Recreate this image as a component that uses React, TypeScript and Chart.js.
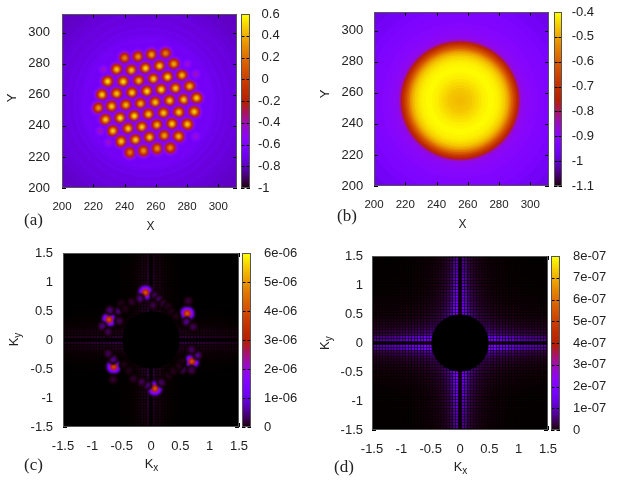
import React, { useEffect, useRef } from "react";
import { Chart, registerables } from "chart.js";

Chart.register(...registerables);

// ---------- DATA ----------
const xyTicks = [200, 220, 240, 260, 280, 300];
const kTicks = [-1.5, -1, -0.5, 0, 0.5, 1, 1.5];
const kTickLabels = ["-1.5", "-1", "-0.5", "0", "0.5", "1", "1.5"];

const cbTicksA = [-1, -0.8, -0.6, -0.4, -0.2, 0, 0.2, 0.4, 0.6];
const cbLabelsA = ["-1", "-0.8", "-0.6", "-0.4", "-0.2", " 0", " 0.2", " 0.4", " 0.6"];
const cbTicksB = [-1.1, -1, -0.9, -0.8, -0.7, -0.6, -0.5, -0.4];
const cbLabelsB = ["-1.1", "-1", "-0.9", "-0.8", "-0.7", "-0.6", "-0.5", "-0.4"];
const cbTicksC = [0, 1e-6, 2e-6, 3e-6, 4e-6, 5e-6, 6e-6];
const cbLabelsC = ["0", "1e-06", "2e-06", "3e-06", "4e-06", "5e-06", "6e-06"];
const cbTicksD = [0, 1e-7, 2e-7, 3e-7, 4e-7, 5e-7, 6e-7, 7e-7, 8e-7];
const cbLabelsD = ["0", "1e-07", "2e-07", "3e-07", "4e-07", "5e-07", "6e-07", "7e-07", "8e-07"];

// (a) background rings and density peaks
const ringRadiusA = [90, 80, 75, 70, 66, 62, 59, 56, 53, 50, 48, 46, 44, 42];
const ringValueA = [-0.79, -0.78, -0.775, -0.765, -0.75, -0.74, -0.725, -0.735, -0.715, -0.72, -0.695, -0.705, -0.685, -0.67];
const spotXA = [
  240.1, 248.8, 257.3, 266.3,
  235, 244.5, 253.5, 262.5, 271.6,
  229.2, 239.2, 249.2, 258.6, 267.6, 276.8,
  225.6, 235, 244.8, 254.4, 263.5, 272.7, 281.7,
  223.4, 231.8, 240.9, 250.3, 259.7, 268.9, 278, 286.1,
  227.9, 237.3, 246.3, 255.4, 265, 274.8, 284.6,
  232.6, 242.4, 251.2, 260.8, 270.4, 280.2,
  237.9, 247.1, 256.1, 265.5, 274.6,
  243.5, 252.2, 261, 269.3,
  280.2, 226.6, 285.5, 224.5, 229.8, 285.5,
];
const spotYA = [
  283.6, 284.5, 285.8, 286.6,
  276.3, 275.7, 277, 278.5, 279.8,
  268.6, 268.4, 269, 270.1, 271.4, 272.5,
  260, 260.7, 261.3, 262.2, 263.3, 264.1, 265.4,
  251.5, 252.5, 253.4, 254.2, 255.1, 256.2, 256.8, 257.9,
  244, 245, 246.3, 247.4, 248.2, 248.7, 249.1,
  236.7, 238.2, 239.2, 240.5, 241.2, 241,
  230, 230.9, 232.6, 233.7, 233.2,
  222.9, 224, 225.5, 225.9,
  279.8, 276.3, 273.3, 236.7, 229.4, 233.2,
];
const spotPeakA = [
  0.3, 0.35, 0.4, 0.3,
  0.5, 0.5, 0.55, 0.5, 0.4,
  0.55, 0.55, 0.45, 0.5, 0.55, 0.45,
  0.5, 0.5, 0.5, 0.55, 0.55, 0.5, 0.45,
  0.35, 0.5, 0.45, 0.45, 0.5, 0.5, 0.5, 0.5,
  0.5, 0.55, 0.55, 0.5, 0.5, 0.5, 0.5,
  0.5, 0.5, 0.5, 0.45, 0.5, 0.5,
  0.5, 0.5, 0.5, 0.4, 0.45,
  0.25, 0.35, 0.35, 0.3,
  -0.42, -0.4, -0.38, -0.38, -0.4, -0.42,
];

// (b) radial profile of the density
const ringRadiusB = [90, 80, 72, 65, 60, 55, 50, 46, 43, 41, 40, 39, 38.3, 37.6, 37, 36, 35, 34, 33, 32, 31, 30, 29, 28, 27, 26, 25, 24, 22, 20, 18, 16, 14, 12, 10, 8, 6, 4, 2];
const ringValueB = [-0.98, -0.97, -0.955, -0.94, -0.93, -0.92, -0.91, -0.9, -0.89, -0.885, -0.87, -0.85, -0.8, -0.76, -0.72, -0.68, -0.64, -0.6, -0.56, -0.52, -0.49, -0.47, -0.45, -0.44, -0.43, -0.42, -0.415, -0.41, -0.405, -0.405, -0.41, -0.415, -0.425, -0.435, -0.445, -0.455, -0.46, -0.465, -0.47];

// (c) Bragg peaks and their side lobes
const lobeXC = [
  -0.094, 0.617, 0.697, 0.065, -0.635, -0.714,
  -0.19, 0.066, 0.14, -0.333, 0.037, 0.208,
  0.635, 0.606, 0.72,
  0.794, 0.691, 0.538, 0.691,
  -0.065, 0.179, -0.162, -0.304,
  -0.646, -0.731, -0.646,
  -0.56, -0.703, -0.828, -0.731, -0.543,
  0.293, 0.35, 0.42, -0.503, -0.44, 0.52, 0.47, 0.3, 0.38, -0.46, -0.38,
];
const lobeYC = [
  0.817, 0.456, -0.37, -0.835, -0.46, 0.353,
  0.713, 0.771, 0.696, 0.656, 0.599, 0.627,
  0.673, 0.312, 0.226,
  -0.262, -0.164, -0.508, -0.52,
  -0.778, -0.732, -0.721, -0.664,
  -0.331, -0.233, -0.68,
  0.501, 0.513, 0.237, 0.14, 0.329,
  0.57, 0.484, 0.41, 0.627, 0.54, -0.38, -0.46, -0.61, -0.54, -0.43, -0.53,
];
const lobeValueC = [
  4.2e-6, 4.2e-6, 4.1e-6, 4.2e-6, 4e-6, 4e-6,
  0.55e-6, 0.4e-6, 0.5e-6, 0.2e-6, 0.3e-6, 0.25e-6,
  0.25e-6, 0.6e-6, 0.35e-6,
  0.6e-6, 0.4e-6, 0.5e-6, 0.35e-6,
  0.5e-6, 0.4e-6, 0.35e-6, 0.2e-6,
  0.6e-6, 0.35e-6, 0.2e-6,
  0.5e-6, 0.5e-6, 0.55e-6, 0.35e-6, 0.35e-6,
  0.15e-6, 0.13e-6, 0.1e-6, 0.13e-6, 0.1e-6, 0.12e-6, 0.13e-6, 0.13e-6, 0.12e-6, 0.1e-6, 0.1e-6,
];

// Streak tables on the 0.05 k grid; index = |k| / 0.05
const streakAlongC = [3, 3, 3, 3, 3, 3, 3, 3, 3, 3, 3, 2.6, 2.9, 2.4, 2.7, 2.2, 2.5, 2, 2.3, 1.9, 2.1, 1.7, 1.9, 1.6, 1.7, 1.5, 1.5, 1.3, 1.3, 1.2, 1.2];
const streakPlusC = [0, 0.7, 0.3, 0.35, 0.18, 0.1, 0.06, 0.04, 0.02, 0.01, 0.01, 0, 0, 0, 0, 0, 0, 0, 0, 0, 0, 0, 0, 0, 0, 0, 0, 0, 0, 0, 0];
const streakMinusC = [0, 0.9, 0.35, 0.4, 0.2, 0.12, 0.07, 0.04, 0.02, 0.01, 0.01, 0, 0, 0, 0, 0, 0, 0, 0, 0, 0, 0, 0, 0, 0, 0, 0, 0, 0, 0, 0];
const streakAlongD = [2.3, 2.3, 2.3, 2.3, 2.3, 2.3, 2.3, 2.3, 2.3, 2.4, 2.6, 2, 2.3, 1.8, 2.1, 1.7, 1.9, 1.6, 1.7, 1.4, 1.5, 1.3, 1.4, 1.2, 1.3, 1.1, 1.2, 1, 1.1, 0.9, 0.9];
const streakPlusD = [0.01, 0.7, 0.6, 0.3, 0.24, 0.17, 0.13, 0.09, 0.07, 0.05, 0.04, 0.03, 0.025, 0.02, 0.016, 0.012, 0.008, 0.006, 0.005, 0.004, 0.004, 0.003, 0.003, 0.002, 0.002, 0.002, 0.002, 0.002, 0.002, 0.002, 0.002];
const streakMinusD = [0.01, 0.85, 0.7, 0.34, 0.26, 0.17, 0.13, 0.09, 0.07, 0.05, 0.04, 0.03, 0.025, 0.02, 0.016, 0.012, 0.008, 0.006, 0.005, 0.004, 0.004, 0.003, 0.003, 0.002, 0.002, 0.002, 0.002, 0.002, 0.002, 0.002, 0.002];
const maskRadiusK = 0.49;

// ---------- PALETTE / HELPERS ----------
function palette(t: number): [number, number, number] {
  const g = Math.min(1, Math.max(0, t));
  return [
    Math.round(255 * Math.sqrt(g)),
    Math.round(255 * g * g * g),
    Math.round(255 * Math.max(0, Math.sin(2 * Math.PI * g))),
  ];
}
function colorOf(v: number, min: number, max: number) {
  const [r, g, b] = palette((v - min) / (max - min));
  return `rgb(${r},${g},${b})`;
}
const spriteCache = new Map<string, HTMLCanvasElement>();
function sprite(peak: number, base: number, sigma: number, min: number, max: number) {
  const key = [peak, base, sigma, min, max].join("|");
  const hit = spriteCache.get(key);
  if (hit) return hit;
  const half = Math.ceil(sigma * 3.4);
  const size = half * 2;
  const c = document.createElement("canvas");
  c.width = size;
  c.height = size;
  const ctx = c.getContext("2d")!;
  const img = ctx.createImageData(size, size);
  for (let y = 0; y < size; y++) {
    for (let x = 0; x < size; x++) {
      const dx = x + 0.5 - half;
      const dy = y + 0.5 - half;
      const t = Math.exp(-(dx * dx + dy * dy) / (2 * sigma * sigma));
      const [r, g, b] = palette((base + (peak - base) * t - min) / (max - min));
      const o = (y * size + x) * 4;
      img.data[o] = r;
      img.data[o + 1] = g;
      img.data[o + 2] = b;
      img.data[o + 3] = 255 * Math.min(1, t * 7);
    }
  }
  ctx.putImageData(img, 0, 0);
  spriteCache.set(key, c);
  return c;
}
function streakCells(along: number[], plus: number[], minus: number[], unit: number) {
  const at = (n: number) => (n >= 0 ? plus[n] : minus[-n]);
  const cells: { x: number; y: number; v: number }[] = [];
  for (let i = -30; i <= 30; i++) {
    for (let j = -30; j <= 30; j++) {
      const v = (at(j) * along[Math.abs(i)] + at(i) * along[Math.abs(j)]) * unit;
      cells.push({ x: i * 0.05, y: j * 0.05, v });
    }
  }
  return cells;
}

const unitRadius = (ctx: any) => {
  const s = ctx.chart.scales.x;
  return Math.abs(s.getPixelForValue(1) - s.getPixelForValue(0)) * ctx.raw.r;
};
function ringDataset(radius: number[], value: number[], min: number, max: number) {
  return {
    data: radius.map((r, i) => ({ x: 255, y: 255, r, v: value[i] })),
    pointRadius: unitRadius,
    pointBorderWidth: 0,
    pointBackgroundColor: (c: any) => colorOf(c.raw.v, min, max),
  };
}
function cellDataset(cells: { x: number; y: number; v: number }[], min: number, max: number) {
  return {
    data: cells,
    pointStyle: "rect",
    pointRadius: 1.7,
    pointBorderWidth: 0,
    pointBackgroundColor: (c: any) => colorOf(c.raw.v, min, max),
  };
}
function maskDataset() {
  return {
    data: [{ x: 0, y: 0, r: maskRadiusK }],
    pointRadius: unitRadius,
    pointBorderWidth: 0,
    pointBackgroundColor: "#000",
  };
}

// ---------- PANEL DEFINITIONS ----------
const TICK_COLOR = "#222";
const YW = 62;
const XH = 50;
const PT = 10;
const PR = 16;

const panels = [
  {
    id: "a", L: 62, T: 14, R: 237, B: 188, barL: 241, barR: 250,
    xMin: 200, xMax: 312, ticks: xyTicks, labels: xyTicks.map(String),
    xFont: 11.5, yPad: 12, xPad: 12, cbPad: 8,
    cMin: -1, cMax: 0.6, cbTicks: cbTicksA, cbLabels: cbLabelsA,
    xTitle: "X", yTitle: "Y", titleX: 0, titleY: 38.7, titleYX: 12.7, titleYY: 98,
    tag: "(a)", tagX: 24, tagY: 220.7,
    datasets: () => [
      {
        data: spotXA.map((x, i) => ({ x, y: spotYA[i], p: spotPeakA[i] })),
        pointBorderWidth: 0,
        pointStyle: (c: any) => sprite(c.raw.p, -0.68, c.raw.p < 0 ? 2.6 : 3.7, -1, 0.6),
      },
      ringDataset(ringRadiusA, ringValueA, -1, 0.6),
    ],
  },
  {
    id: "b", L: 374, T: 12, R: 549, B: 186, barL: 554, barR: 562,
    xMin: 200, xMax: 312, ticks: xyTicks, labels: xyTicks.map(String),
    xFont: 11.5, yPad: 10.7, xPad: 12, cbPad: 9.7,
    cMin: -1.1, cMax: -0.4, cbTicks: cbTicksB, cbLabels: cbLabelsB,
    xTitle: "X", yTitle: "Y", titleX: 0, titleY: 39, titleYX: 325.7, titleYY: 94,
    tag: "(b)", tagX: 337, tagY: 217,
    datasets: () => [ringDataset(ringRadiusB, ringValueB, -1.1, -0.4)],
  },
  {
    id: "c", L: 63, T: 253, R: 239, B: 427, barL: 242, barR: 251,
    xMin: -1.5, xMax: 1.5, ticks: kTicks, labels: kTickLabels,
    xFont: 13, yPad: 10, xPad: 12, cbPad: 13,
    cMin: 0, cMax: 6e-6, cbTicks: cbTicksC, cbLabels: cbLabelsC,
    xTitle: "K", xSub: "x", yTitle: "K", ySub: "y", titleX: 0, titleY: 37, titleYX: 14, titleYY: 339,
    tag: "(c)", tagX: 24, tagY: 466,
    datasets: () => [
      maskDataset(),
      {
        data: lobeXC.map((x, i) => ({ x, y: lobeYC[i], p: lobeValueC[i] })),
        pointBorderWidth: 0,
        pointStyle: (c: any) => sprite(c.raw.p, 0, c.raw.p > 2e-6 ? 3.5 : 2.3, 0, 6e-6),
      },
      cellDataset(streakCells(streakAlongC, streakPlusC, streakMinusC, 1e-7), 0, 6e-6),
    ],
  },
  {
    id: "d", L: 372, T: 256, R: 548, B: 430, barL: 551, barR: 560,
    xMin: -1.5, xMax: 1.5, ticks: kTicks, labels: kTickLabels,
    xFont: 13, yPad: 9, xPad: 12, cbPad: 13,
    cMin: 0, cMax: 8e-7, cbTicks: cbTicksD, cbLabels: cbLabelsD,
    xTitle: "K", xSub: "x", yTitle: "K", ySub: "y", titleX: 0, titleY: 37, titleYX: 325, titleYY: 342.7,
    tag: "(d)", tagX: 334, tagY: 467.7,
    datasets: () => [
      maskDataset(),
      cellDataset(streakCells(streakAlongD, streakPlusD, streakMinusD, 1e-7), 0, 8e-7),
    ],
  },
];

type PanelDef = (typeof panels)[number];

// ---------- PLUGINS ----------
const framePlugin = {
  id: "gnuFrame",
  beforeDatasetsDraw(chart: any) {
    const { ctx, chartArea: a } = chart;
    ctx.save();
    ctx.fillStyle = "#000";
    ctx.fillRect(a.left, a.top, a.right - a.left, a.bottom - a.top);
    ctx.restore();
  },
  afterDatasetsDraw(chart: any, _args: any, opts: any) {
    const { ctx, chartArea: a, scales } = chart;
    const len = opts.tickLength ?? 4;
    ctx.save();
    ctx.strokeStyle = "#000";
    ctx.lineWidth = 1;
    ctx.beginPath();
    for (const t of scales.y.ticks) {
      const y = Math.round(scales.y.getPixelForValue(t.value)) + 0.5;
      ctx.moveTo(a.left, y);
      ctx.lineTo(a.left + len, y);
      ctx.moveTo(a.right, y);
      ctx.lineTo(a.right - len, y);
    }
    if (scales.x.options.display) {
      for (const t of scales.x.ticks) {
        const x = Math.round(scales.x.getPixelForValue(t.value)) + 0.5;
        ctx.moveTo(x, a.top);
        ctx.lineTo(x, a.top + len);
        ctx.moveTo(x, a.bottom);
        ctx.lineTo(x, a.bottom - len);
      }
    }
    ctx.stroke();
    ctx.strokeStyle = "#555";
    ctx.strokeRect(a.left + 0.5, a.top + 0.5, a.right - a.left - 1, a.bottom - a.top - 1);
    ctx.restore();
  },
};

const labelPlugin = {
  id: "panelLabels",
  afterDraw(chart: any, _args: any, p: any) {
    if (!p || !p.def) return;
    const def: PanelDef = p.def;
    const { ctx, chartArea: a } = chart;
    const ox = def.L - YW;
    const oy = def.T - PT;
    ctx.save();
    ctx.fillStyle = TICK_COLOR;
    ctx.textBaseline = "middle";

    // x title
    const xc = (a.left + a.right) / 2 + 1;
    const xy = a.bottom + def.titleY;
    ctx.font = "13px 'Liberation Sans'";
    if ((def as any).xSub) {
      const w = ctx.measureText(def.xTitle).width;
      ctx.textAlign = "left";
      ctx.fillText(def.xTitle, xc - w / 2 - 3, xy);
      ctx.font = "10px 'Liberation Sans'";
      ctx.fillText((def as any).xSub, xc + w / 2 - 3, xy + 4);
    } else {
      ctx.font = "12px 'Liberation Sans'";
      ctx.textAlign = "center";
      ctx.fillText(def.xTitle, xc, xy);
    }

    // y title
    ctx.translate(def.titleYX - ox, def.titleYY - oy);
    ctx.rotate(-Math.PI / 2);
    ctx.font = "13px 'Liberation Sans'";
    if ((def as any).ySub) {
      const w = ctx.measureText(def.yTitle).width;
      ctx.textAlign = "left";
      ctx.fillText(def.yTitle, -w / 2 - 3, 0);
      ctx.font = "10px 'Liberation Sans'";
      ctx.fillText((def as any).ySub, w / 2 - 3, 4);
    } else {
      ctx.textAlign = "center";
      ctx.fillText(def.yTitle, 0, 0);
    }
    ctx.restore();

    // panel tag
    ctx.save();
    ctx.fillStyle = "#222";
    ctx.font = "17px 'Liberation Serif'";
    ctx.textAlign = "left";
    ctx.textBaseline = "middle";
    ctx.fillText(def.tag, def.tagX - ox, def.tagY - oy);
    ctx.restore();
  },
};

// ---------- COMPONENTS ----------
const noPadding = (s: any) => {
  s.paddingLeft = 0;
  s.paddingRight = 0;
  s.paddingTop = 0;
  s.paddingBottom = 0;
};

function Panel({ def }: { def: PanelDef }) {
  const heatRef = useRef<HTMLCanvasElement>(null);
  const barRef = useRef<HTMLCanvasElement>(null);

  const plotW = def.R - def.L;
  const plotH = def.B - def.T;
  const barW = def.barR - def.barL;
  const heatW = YW + plotW + PR;
  const heatH = PT + plotH + XH;
  const barCanvasW = barW + 58;
  const barCanvasH = plotH + 2 * PT;

  useEffect(() => {
    const fixTicks = (values: number[]) => (s: any) => {
      s.ticks = values.map((value) => ({ value }));
    };
    const heat = new Chart(heatRef.current!, {
      type: "scatter",
      data: { datasets: def.datasets() as any },
      options: {
        animation: false,
        responsive: false,
        events: [],
        layout: { autoPadding: false, padding: { top: PT, right: PR, left: 0, bottom: 0 } },
        plugins: {
          legend: { display: false },
          tooltip: { enabled: false },
          gnuFrame: {},
          panelLabels: { def },
        } as any,
        scales: {
          x: {
            type: "linear",
            min: def.xMin,
            max: def.xMax,
            afterBuildTicks: fixTicks(def.ticks),
            afterFit: (s: any) => {
              s.height = XH;
              noPadding(s);
            },
            grid: { display: false, drawTicks: false },
            border: { display: false },
            ticks: {
              autoSkip: false,
              maxRotation: 0,
              padding: def.xPad,
              color: TICK_COLOR,
              font: { family: "'Liberation Sans'", size: def.xFont },
              callback: (_v: any, i: number) => def.labels[i],
            },
          },
          y: {
            type: "linear",
            min: def.xMin,
            max: def.xMax,
            afterBuildTicks: fixTicks(def.ticks),
            afterFit: (s: any) => {
              s.width = YW;
              noPadding(s);
            },
            grid: { display: false, drawTicks: false },
            border: { display: false },
            ticks: {
              autoSkip: false,
              padding: def.yPad,
              color: TICK_COLOR,
              font: { family: "'Liberation Sans'", size: 13 },
              callback: (_v: any, i: number) => def.labels[i],
            },
          },
        },
      } as any,
      plugins: [framePlugin, labelPlugin] as any,
    });

    const levelCount = 128;
    const step = (def.cMax - def.cMin) / levelCount;
    const barSets = [];
    for (let i = levelCount - 1; i >= 0; i--) {
      const lo = def.cMin + i * step;
      barSets.push({
        data: [[lo - step * 0.6, lo + step]],
        backgroundColor: colorOf(lo + step / 2, def.cMin, def.cMax),
        borderWidth: 0,
        barPercentage: 1,
        categoryPercentage: 1,
        grouped: false,
      });
    }
    const bar = new Chart(barRef.current!, {
      type: "bar",
      data: { labels: ["colorbox"], datasets: barSets as any },
      options: {
        animation: false,
        responsive: false,
        events: [],
        layout: { autoPadding: false, padding: { top: PT, bottom: PT, left: 0, right: 0 } },
        plugins: { legend: { display: false }, tooltip: { enabled: false }, gnuFrame: { tickLength: 3.5 } } as any,
        scales: {
          x: { display: false },
          y: {
            type: "linear",
            position: "right",
            min: def.cMin,
            max: def.cMax,
            afterBuildTicks: fixTicks(def.cbTicks),
            afterFit: (s: any) => {
              s.width = 58;
              noPadding(s);
            },
            grid: { display: false, drawTicks: false },
            border: { display: false },
            ticks: {
              autoSkip: false,
              padding: def.cbPad,
              color: TICK_COLOR,
              font: { family: "'Liberation Sans'", size: 13 },
              callback: (_v: any, i: number) => def.cbLabels[i],
            },
          },
        },
      } as any,
      plugins: [framePlugin] as any,
    });
    return () => {
      heat.destroy();
      bar.destroy();
    };
  }, [def]);

  const common = { position: "absolute", filter: "blur(0.4px)" } as const;
  return (
    <>
      <canvas
        ref={heatRef}
        width={heatW}
        height={heatH}
        style={{ ...common, left: def.L - YW, top: def.T - PT, width: heatW, height: heatH }}
      />
      <canvas
        ref={barRef}
        width={barCanvasW}
        height={barCanvasH}
        style={{ ...common, left: def.barL, top: def.T - PT, width: barCanvasW, height: barCanvasH }}
      />
    </>
  );
}

export default function App() {
  return (
    <div style={{ position: "fixed", left: 0, top: 0, width: 623, height: 484, background: "#fff", overflow: "hidden" }}>
      {panels.map((p) => (
        <Panel key={p.id} def={p} />
      ))}
    </div>
  );
}
